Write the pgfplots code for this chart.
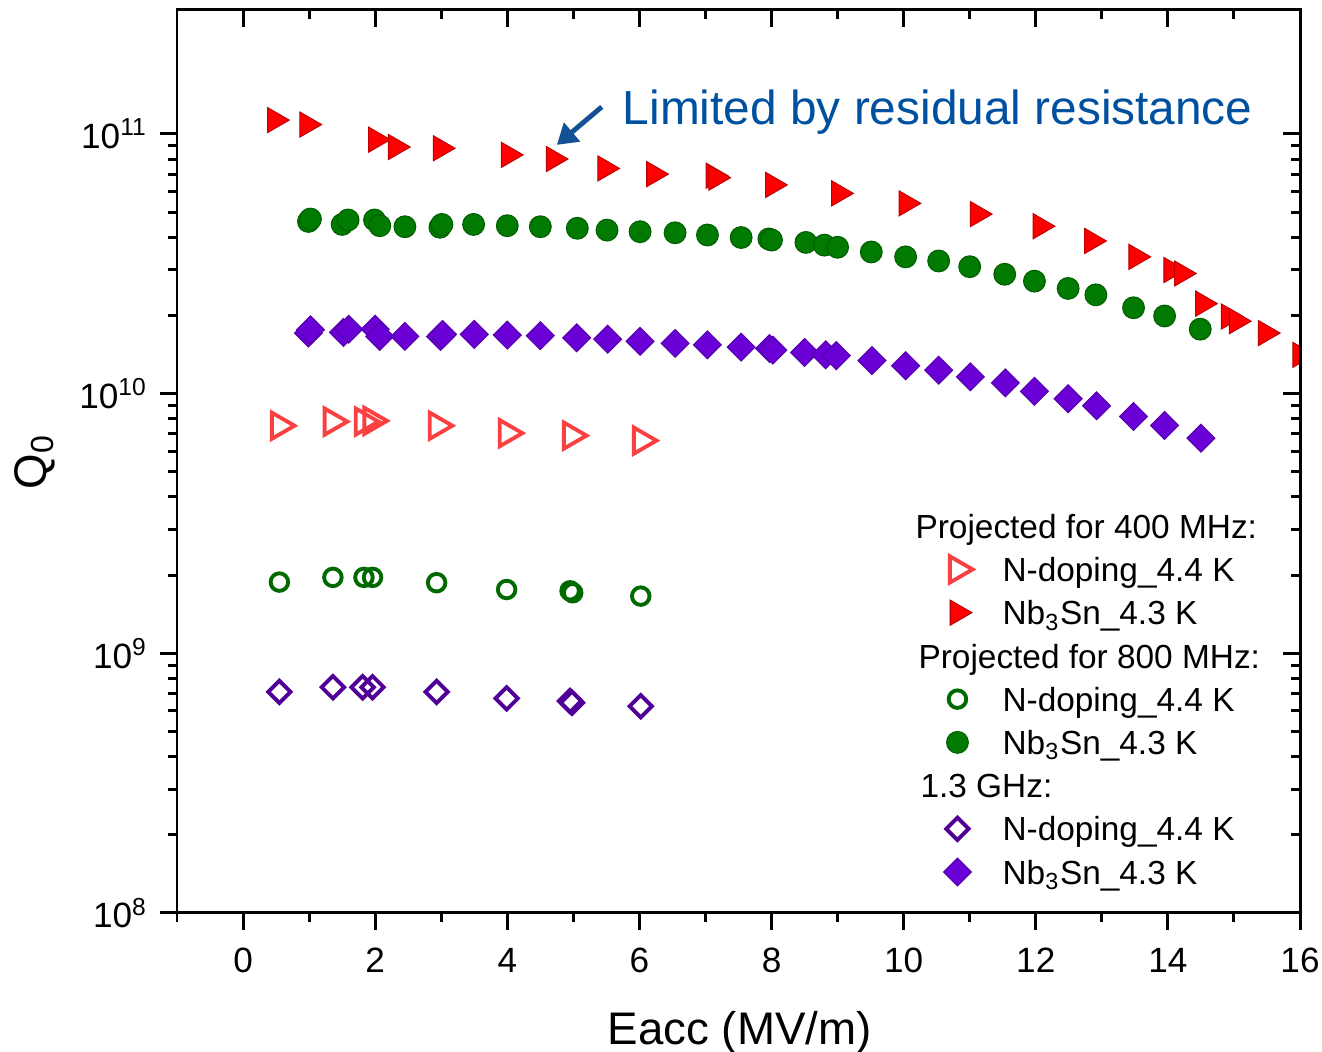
\documentclass[border=0pt]{standalone}
\usepackage{fontspec}
\setmainfont{Liberation Sans}
\usepackage{pgfplots}
\pgfplotsset{compat=1.18}
\usetikzlibrary{arrows.meta}

\definecolor{rfill}{RGB}{255,0,0}
\definecolor{redge}{RGB}{190,0,0}
\definecolor{ropen}{RGB}{250,64,64}
\definecolor{gfill}{RGB}{0,122,0}
\definecolor{gedge}{RGB}{0,95,0}
\definecolor{gopen}{RGB}{0,105,0}
\definecolor{pfill}{RGB}{106,0,214}
\definecolor{pedge}{RGB}{85,0,170}
\definecolor{popen}{RGB}{80,0,150}
\definecolor{annot}{RGB}{0,80,160}
\definecolor{arrowc}{RGB}{20,80,150}

\begin{document}
\begin{tikzpicture}
\begin{axis}[
  scale only axis, width=11.23cm, height=9.03cm,
  xmin=-1, xmax=16, ymode=log, ymin=1e8, ymax=3e11,
  xtick={0,2,...,16}, minor xtick={-1,1,...,15},
  axis line style={line width=0.85pt},
  tick style={line width=0.85pt, black},
  major tick length=0.17cm, minor tick length=0.09cm,
  xtick pos=bottom, ytick pos=left, tick align=outside,
  ticklabel style={font=\fontsize{10}{12}\selectfont},
  xticklabel style={yshift=-0.06cm},
  /pgf/number format/assume math mode=true,
  yticklabel={\pgfmathtruncatemacro\ex{round(\tick/ln(10))}10\textsuperscript{\ex}},
  xlabel={Eacc (MV/m)},
  ylabel={Q\textsubscript{0}},
  xlabel style={font=\fontsize{13}{15}\selectfont, at={(axis description cs:0.501,-0.146)}, anchor=base},
  ylabel style={font=\fontsize{13}{15}\selectfont, at={(axis description cs:-0.127,0.5)}, anchor=center},
  clip marker paths=true,
  legend cell align=left,
  legend image code/.code={\draw[mark repeat=2,mark phase=2,#1] plot coordinates {(0cm,0cm) (0.15cm,0cm) (0.3cm,0cm)};},
  legend style={at={(axis description cs:0.681,0.453)}, anchor=north west,
    draw=none, fill=none, inner sep=0pt, row sep=0pt,
    font=\fontsize{9.5}{11}\selectfont,
    nodes={inner sep=0pt, text height=9.6pt, text depth=2.7pt},
    /tikz/every odd column/.append style={column sep=0.3cm}},
]
% 400 MHz
\addlegendimage{empty legend}
\addlegendentry{\hspace*{-0.87cm}Projected for 400 MHz:}
\addplot[only marks, mark=triangle, mark size=4.3pt, mark options={rotate=-90, draw=ropen, line width=1.1pt, solid}]
  coordinates {(0.55,7.52e9) (1.35,7.8e9) (1.82,7.8e9) (1.95,7.85e9) (2.94,7.52e9) (4.0,7.04e9) (4.97,6.89e9) (6.03,6.59e9)};
\addlegendentry{N-doping\_4.4 K}
\addplot[only marks, mark=triangle*, mark size=4.1pt, mark options={rotate=-90, fill=rfill, draw=redge, line width=0.3pt}]
  coordinates {(0.48,1.13e11) (0.97,1.086e11) (2.01,9.5e10) (2.31,8.9e10) (2.99,8.8e10) (4.02,8.3e10) (4.70,8.0e10)
    (5.48,7.36e10) (6.22,7.0e10) (7.12,6.9e10) (7.16,6.78e10) (8.02,6.36e10) (9.02,5.9e10) (10.04,5.4e10) (11.12,4.91e10)
    (12.07,4.41e10) (12.85,3.87e10) (13.52,3.36e10) (14.05,2.99e10) (14.21,2.9e10) (14.53,2.22e10) (14.92,1.98e10)
    (15.04,1.9e10) (15.48,1.71e10) (16.0,1.41e10)};
\addlegendentry{Nb\textsubscript{3}Sn\_4.3 K}
% 800 MHz
\addlegendimage{empty legend}
\addlegendentry{\hspace*{-0.84cm}Projected for 800 MHz:}
\addplot[only marks, mark=o, mark size=2.5pt, mark options={draw=gopen, line width=1.1pt, solid}]
  coordinates {(0.55,1.88e9) (1.36,1.96e9) (1.83,1.96e9) (1.96,1.96e9) (2.93,1.87e9) (3.99,1.76e9) (4.95,1.74e9) (4.99,1.71e9) (6.02,1.66e9)};
\addlegendentry{N-doping\_4.4 K}
\addplot[only marks, mark=*, mark size=3.1pt, mark options={fill=gfill, draw=gedge, line width=0.3pt}]
  coordinates {(0.99,4.6e10) (1.02,4.7e10) (1.50,4.48e10) (1.59,4.66e10) (1.99,4.66e10) (2.07,4.43e10) (2.45,4.39e10)
    (2.98,4.37e10) (3.01,4.48e10) (3.49,4.48e10) (4.0,4.43e10) (4.5,4.39e10) (5.06,4.33e10) (5.51,4.26e10) (6.01,4.2e10)
    (6.54,4.16e10) (7.03,4.08e10) (7.54,3.99e10) (7.96,3.94e10) (8.0,3.9e10) (8.52,3.82e10) (8.8,3.73e10) (9.0,3.66e10)
    (9.51,3.51e10) (10.03,3.36e10) (10.53,3.24e10) (11.0,3.08e10) (11.53,2.88e10) (11.98,2.71e10) (12.49,2.54e10)
    (12.91,2.4e10) (13.48,2.14e10) (13.95,1.99e10) (14.49,1.77e10)};
\addlegendentry{Nb\textsubscript{3}Sn\_4.3 K}
% 1.3 GHz
\addlegendimage{empty legend}
\addlegendentry{\hspace*{-0.82cm}1.3 GHz:}
\addplot[only marks, mark=square, mark size=2.25pt, mark options={rotate=45, draw=popen, line width=1.1pt, solid}]
  coordinates {(0.55,7.1e8) (1.36,7.4e8) (1.81,7.4e8) (1.96,7.4e8) (2.93,7.1e8) (3.99,6.7e8) (4.95,6.55e8) (4.98,6.45e8) (6.02,6.25e8)};
\addlegendentry{N-doping\_4.4 K}
\addplot[only marks, mark=square*, mark size=2.8pt, mark options={rotate=45, fill=pfill, draw=pedge, line width=0.3pt}]
  coordinates {(0.99,1.71e10) (1.02,1.76e10) (1.52,1.72e10) (1.6,1.77e10) (2.0,1.77e10) (2.07,1.66e10) (2.45,1.66e10)
    (2.99,1.66e10) (3.02,1.69e10) (3.5,1.69e10) (4.0,1.68e10) (4.5,1.67e10) (5.05,1.64e10) (5.52,1.62e10) (6.01,1.59e10)
    (6.54,1.56e10) (7.03,1.54e10) (7.54,1.51e10) (7.97,1.49e10) (8.02,1.47e10) (8.5,1.44e10) (8.82,1.41e10) (8.98,1.4e10)
    (9.52,1.34e10) (10.03,1.28e10) (10.53,1.23e10) (11.01,1.16e10) (11.54,1.1e10) (11.98,1.02e10) (12.49,9.55e9)
    (12.92,8.97e9) (13.48,8.16e9) (13.95,7.54e9) (14.5,6.73e9)};
\addlegendentry{Nb\textsubscript{3}Sn\_4.3 K}

\node[anchor=base west, inner sep=0pt, text=annot, font=\fontsize{13.6}{16}\selectfont]
  at (axis cs:5.74,1.083e11) {Limited by residual resistance};
\draw[arrowc, line width=1.4pt, -{Triangle[length=2mm,width=2.4mm]}]
  (axis cs:5.43,1.27e11) -- (axis cs:4.75,9.07e10);
\end{axis}
% top and right ticks point inwards
\begin{axis}[
  scale only axis, width=11.23cm, height=9.03cm,
  xmin=-1, xmax=16, ymode=log, ymin=1e8, ymax=3e11,
  xtick={0,2,...,16}, minor xtick={-1,1,...,15},
  axis line style={line width=0.85pt},
  tick style={line width=0.85pt, black},
  major tick length=0.17cm, minor tick length=0.09cm,
  xtick pos=top, ytick pos=right, tick align=inside,
  xticklabels={}, yticklabels={},
]
\end{axis}
\pgfresetboundingbox
\path (current axis.south west) ++(-1.77cm,-1.39cm) rectangle ++(13.22cm,10.52cm);
\end{tikzpicture}
\end{document}
